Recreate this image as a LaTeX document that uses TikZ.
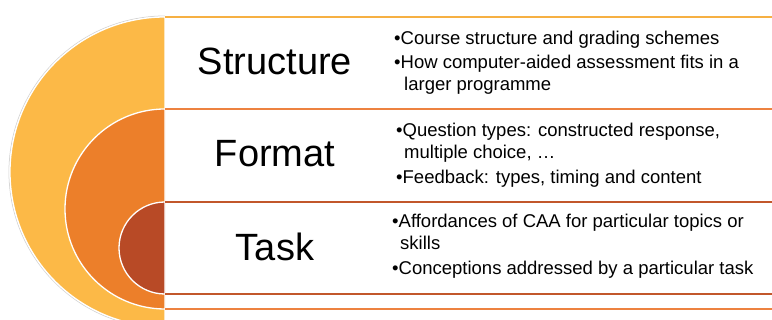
\documentclass[tikz,border=0pt]{standalone}
\usepackage{fontspec}
\setmainfont{Liberation Sans}
\definecolor{cyel}{HTML}{FCB947}
\definecolor{cora}{HTML}{EC7F2A}
\definecolor{cred}{HTML}{B84A26}
\definecolor{lyel}{HTML}{F6B043}
\definecolor{lora}{HTML}{ED8240}
\definecolor{lred}{HTML}{C2572B}
\tikzset{
  half/.style={draw=white, line width=1.3pt},
  band/.style={fill=white, line width=1.4pt},
  title/.style={font=\fontsize{38}{40}\selectfont, anchor=center, inner sep=0pt},
  bullets/.style={font=\fontsize{18.5}{22}\selectfont, align=left, anchor=west, inner sep=0pt}
}
\begin{document}
\begin{tikzpicture}[x=1pt,y=1pt]
\clip (0,0) rectangle (772,320);
\fill[white] (0,0) rectangle (772,320);
% yellow
\draw[gray!35, line width=0.8pt] (165,304) arc[start angle=90,end angle=270,radius=156];
\path[half, fill=cyel] (165,303) arc[start angle=90,end angle=270,radius=155] -- cycle;
\path[band, fill=white] (165,303) rectangle (780,-8);
\draw[lyel, line width=1.4pt] (165,303) -- (780,303);
% orange
\path[half, fill=cora] (165,211) arc[start angle=90,end angle=270,radius=100] -- cycle;
\path[fill=white] (165.7,211) rectangle (780,11);
\draw[lora, line width=1.4pt] (165,211) -- (780,211);
\draw[lora, line width=1.4pt] (165,11) -- (780,11);
% red
\path[half, fill=cred] (165,118) arc[start angle=90,end angle=270,radius=46] -- cycle;
\path[fill=white] (165.7,118) rectangle (780,26);
\draw[lred, line width=1.4pt] (165,118) -- (780,118);
\draw[lred, line width=1.4pt] (165,26) -- (780,26);
% titles
\node[title] (t1) at (275,259) {Structure};
\node[title] (t2) at (275,166) {Format};
\node[title] (t3) at (275,73) {Task};
% bullets
\node[bullets] (b1) at (394,257) {•Course structure and grading schemes\\[2pt]
•How computer-aided assessment fits in a\\
\hspace*{10pt}larger programme};
\node[bullets] (b2) at (396,165) {•Question types: constructed response,\\
\hspace*{8pt}multiple choice, …\\[3pt]
•Feedback: types, timing and content};
\node[bullets] (b3) at (392,74) {•Affordances of CAA for particular topics or\\
\hspace*{8pt}skills\\[3pt]
•Conceptions addressed by a particular task};
\end{tikzpicture}
\end{document}
